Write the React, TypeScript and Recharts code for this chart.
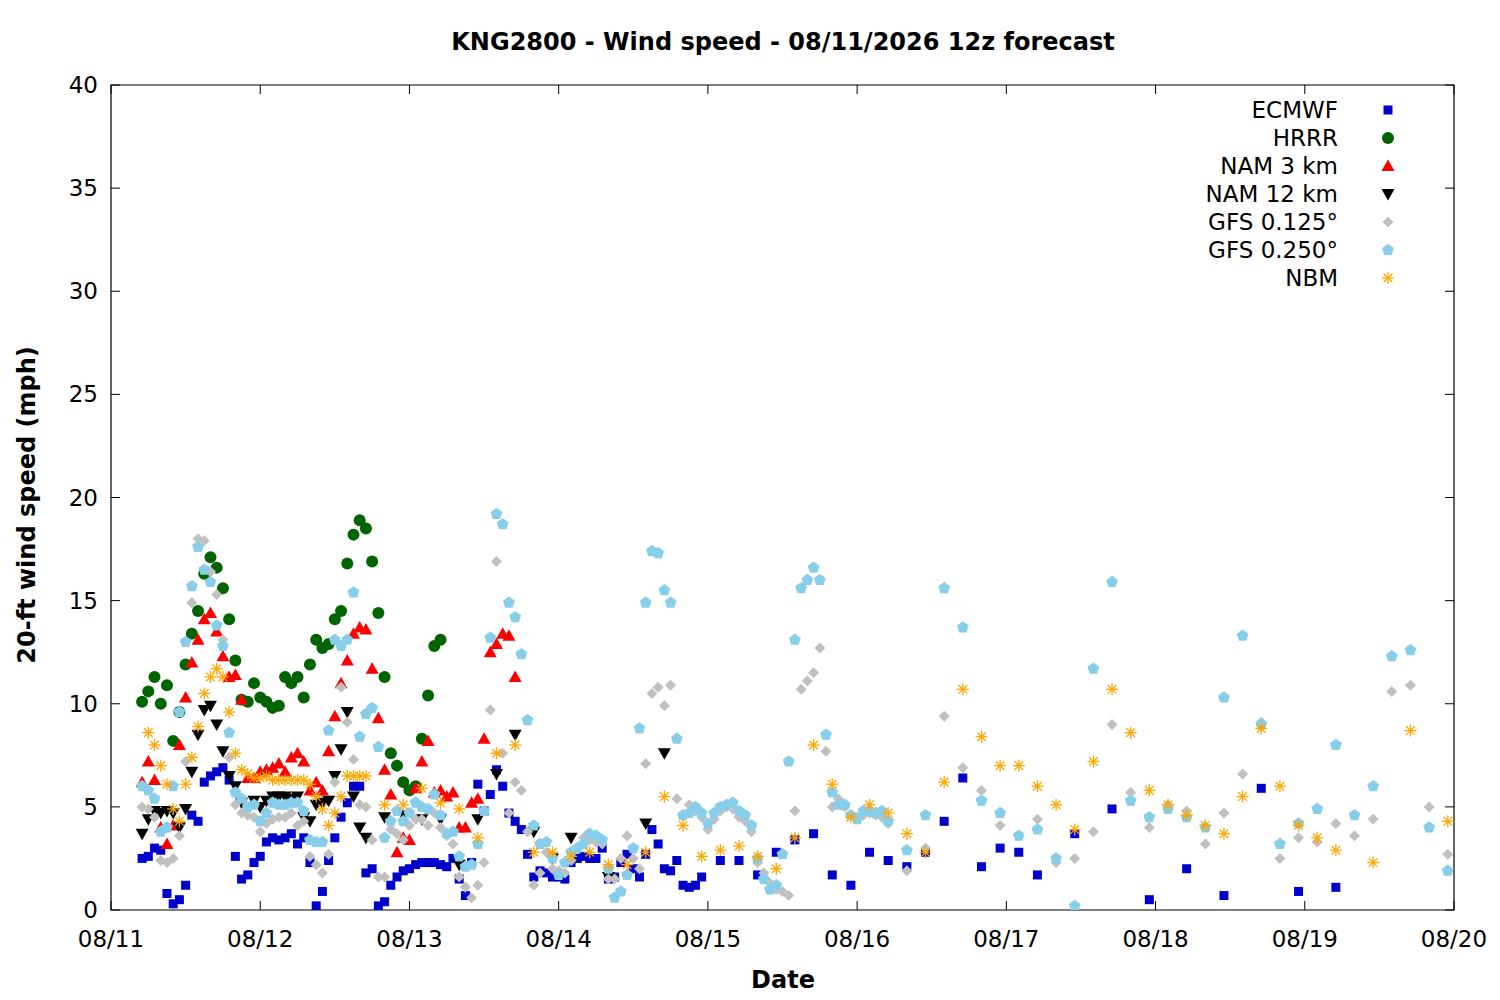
import React from "react";
import { ScatterChart, Scatter, XAxis, YAxis, ReferenceArea } from "recharts";

const X_TICKS = [0, 24, 48, 72, 96, 120, 144, 168, 192, 216];
const X_LABELS = ["08/11", "08/12", "08/13", "08/14", "08/15", "08/16", "08/17", "08/18", "08/19", "08/20"];
const Y_TICKS = [0, 5, 10, 15, 20, 25, 30, 35, 40];

const ecmwfT = [5,6,7,8,9,10,11,12,13,14,15,16,17,18,19,20,21,22,23,24,25,26,27,28,29,30,31,32,33,34,35,36,37,38,39,40,41,42,43,44,45,46,47,48,49,50,51,52,53,54,55,56,57,58,59,60,61,62,63,64,65,66,67,68,69,70,71,72,73,74,75,76,77,78,79,80,81,82,83,84,85,86,87,88,89,90,91,92,93,94,95,98,101,104,107,110,113,116,119,122,125,128,131,134,137,140,143,146,149,155,161,167,173,179,185,191,197];
const ecmwfV = [2.5,2.6,3.0,2.9,0.8,0.3,0.5,1.2,4.6,4.3,6.2,6.5,6.7,6.9,6.3,2.6,1.5,1.7,2.3,2.6,3.3,3.5,3.4,3.5,3.7,3.2,3.5,2.3,0.2,0.9,2.4,3.5,4.5,5.2,6.0,6.0,1.8,2.0,0.2,0.4,1.2,1.6,1.9,2.0,2.2,2.3,2.3,2.3,2.2,2.1,2.5,1.5,0.7,2.3,6.1,4.8,5.6,6.8,6.0,4.7,4.3,3.9,2.7,1.6,1.9,1.8,1.6,1.6,1.5,2.3,2.5,2.6,2.5,2.5,3.0,1.5,1.6,2.3,2.7,2.0,1.6,2.7,3.9,3.2,2.0,1.9,2.4,1.2,1.1,1.2,1.6,2.4,2.4,1.7,2.8,3.4,3.7,1.7,1.2,2.8,2.4,2.1,2.8,4.3,6.4,2.1,3.0,2.8,1.7,3.7,4.9,0.5,2.0,0.7,5.9,0.9,1.1];

const hrrrT = [5,6,7,8,9,10,11,12,13,14,15,16,17,18,19,20,21,22,23,24,25,26,27,28,29,30,31,32,33,34,35,36,37,38,39,40,41,42,43,44,45,46,47,48,49,50,51,52,53];
const hrrrV = [10.1,10.6,11.3,10.0,10.9,8.2,9.6,11.9,13.4,14.5,16.3,17.1,16.6,15.6,14.1,12.1,10.2,10.1,11.0,10.3,10.1,9.8,9.9,11.3,11.0,11.3,10.3,11.9,13.1,12.7,12.9,14.1,14.5,16.8,18.2,18.9,18.5,16.9,14.4,11.3,7.6,7.0,6.2,5.8,6.0,8.3,10.4,12.8,13.1];

const nam3T = [5,6,7,8,9,10,11,12,13,14,15,16,17,18,19,20,21,22,23,24,25,26,27,28,29,30,31,32,33,34,35,36,37,38,39,40,41,42,43,44,45,46,47,48,49,50,51,52,53,54,55,56,57,58,59,60,61,62,63,64,65];
const nam3V = [6.2,7.2,6.3,4.0,3.2,4.1,8.0,10.3,12.0,13.1,14.1,14.4,13.5,12.3,11.3,11.4,10.2,6.4,6.4,6.7,6.8,6.9,7.1,6.7,7.4,7.6,7.2,5.8,6.2,5.8,7.7,9.4,11.0,12.1,13.4,13.7,13.6,11.7,9.3,6.8,5.6,2.8,3.5,3.4,5.9,7.2,8.2,5.7,5.8,5.5,5.7,4.0,4.0,5.2,5.4,8.3,12.5,12.9,13.4,13.3,11.3];

const nam12T = [5,6,7,8,9,10,11,12,13,14,15,16,17,18,19,20,21,22,23,24,25,26,27,28,29,30,31,32,33,34,35,36,37,38,39,40,41,44,47,50,53,56,59,62,65,68,71,74,80,86,89];
const nam12V = [3.7,4.4,4.8,4.7,4.8,4.7,4.0,4.9,6.7,8.5,9.7,9.9,9.0,7.7,6.5,6.0,5.2,4.9,5.3,5.0,5.3,5.5,5.5,5.5,5.4,5.5,4.5,4.3,5.1,5.2,5.3,6.5,7.8,9.6,5.5,4.0,3.5,4.5,4.6,4.4,4.4,2.2,4.4,6.6,8.5,3.8,2.5,3.5,1.6,4.2,7.6];

const gfs125T = [5,6,7,8,9,10,11,12,13,14,15,16,17,18,19,20,21,22,23,24,25,26,27,28,29,30,31,32,33,34,35,36,37,38,39,40,41,42,43,44,45,46,47,48,49,50,51,52,53,54,55,56,57,58,59,60,61,62,63,64,65,66,67,68,69,70,71,72,73,74,75,76,77,78,79,80,81,82,83,84,85,86,87,88,89,90,91,92,93,94,95,96,97,98,99,100,101,102,103,104,105,106,107,108,109,110,111,112,113,114,115,116,117,118,119,120,121,122,123,124,125,128,131,134,137,140,143,146,149,152,155,158,161,164,167,170,173,176,179,182,185,188,191,194,197,200,203,206,209,212,215];
const gfs125V = [5.0,4.9,4.5,2.4,2.3,2.5,3.6,7.2,14.9,18.0,17.9,16.4,15.3,13.1,7.4,5.1,4.7,4.6,4.5,3.8,4.2,4.4,4.5,4.5,4.7,4.1,4.3,2.6,2.2,1.8,2.7,6.2,10.8,9.1,7.3,5.1,5.0,3.4,1.6,1.6,3.9,3.7,3.4,4.1,4.4,4.4,4.1,4.7,4.0,3.6,3.2,1.6,1.1,0.6,1.2,2.3,9.7,16.9,7.6,4.7,6.2,5.8,3.8,1.2,1.8,2.8,2.0,1.9,1.8,2.4,3.0,3.5,3.4,3.3,3.2,1.5,1.5,2.5,3.6,2.5,2.0,7.1,10.5,10.8,9.9,10.9,5.4,4.6,5.1,4.8,4.5,3.9,4.4,4.8,5.0,4.9,4.5,4.3,3.8,2.3,1.8,1.3,1.0,0.9,0.7,4.8,10.7,11.1,11.5,12.7,7.7,5.0,5.4,5.0,4.6,4.5,4.6,4.7,4.6,4.5,4.2,1.9,3.0,9.4,6.9,5.8,4.1,3.6,4.4,2.3,2.5,3.8,9.0,5.7,4.0,5.1,4.8,3.2,4.7,6.6,9.1,2.5,3.5,3.3,4.2,3.6,4.4,10.6,10.9,5.0,2.7];

const gfs250T = gfs125T;
const gfs250V = [6.0,5.8,5.4,3.8,4.0,6.0,9.6,13.0,15.7,17.6,16.5,15.9,13.8,12.8,8.6,5.7,5.4,5.0,5.1,4.3,4.7,5.2,5.1,5.1,5.2,5.2,4.8,3.4,3.3,3.3,8.7,13.1,12.8,13.1,15.4,8.4,9.5,9.8,7.9,3.5,4.3,4.8,4.3,4.7,5.2,5.0,4.9,5.6,4.6,3.7,3.8,2.6,2.1,2.2,3.2,4.8,13.2,19.2,18.7,14.9,14.2,12.4,9.2,4.1,3.2,3.3,2.5,1.7,2.3,2.8,3.0,3.2,3.7,3.6,3.4,2.0,0.6,0.9,1.7,3.0,8.8,14.9,17.4,17.3,15.5,14.9,8.3,4.6,4.7,5.0,4.7,4.2,4.7,5.0,5.1,5.2,4.8,4.6,4.1,2.5,1.5,1.0,1.2,2.7,7.2,13.1,15.6,16.0,16.6,16.0,8.5,5.7,5.1,5.1,4.6,4.4,4.8,4.8,4.7,4.8,4.3,2.9,4.6,15.6,13.7,5.3,4.7,3.6,3.9,2.5,0.2,11.7,15.9,5.3,4.5,4.9,4.5,4.0,10.3,13.3,9.0,3.2,4.2,4.9,8.0,4.6,6.0,12.3,12.6,4.0,1.9];

const nbmT = [6,7,8,9,10,11,12,13,14,15,16,17,18,19,20,21,22,23,24,25,26,27,28,29,30,31,32,33,34,35,36,37,38,39,40,41,44,47,50,53,56,59,62,65,68,71,74,77,80,83,86,89,92,95,98,101,104,107,110,113,116,119,122,125,128,131,134,137,140,143,146,149,152,155,158,161,164,167,170,173,176,179,182,185,188,191,194,197,203,209,215];
const nbmV = [8.6,8.0,7.0,6.1,4.9,4.3,6.1,7.4,8.9,10.5,11.3,11.7,11.3,9.6,7.6,6.8,6.6,6.4,6.4,6.5,6.3,6.3,6.3,6.3,6.3,6.3,6.1,5.5,4.9,4.1,4.7,5.5,6.5,6.5,6.5,6.5,5.1,5.1,5.9,5.2,4.9,3.5,7.6,8.0,2.8,2.8,2.6,2.8,2.2,2.2,2.8,5.5,4.1,2.6,2.9,3.1,2.6,2.0,3.5,8.0,6.1,4.5,5.1,4.7,3.7,2.8,6.2,10.7,8.4,7.0,7.0,6.0,5.1,3.9,7.2,10.7,8.6,5.8,5.1,4.6,4.1,3.7,5.5,8.8,6.0,4.1,3.5,2.9,2.3,8.7,4.3];

const zip = (t: number[], v: number[]) => t.map((x, i) => ({ x, y: v[i] }));

const FONT = "'DejaVu Sans', sans-serif";

const Square = (p: any) => <rect x={p.cx - 4.5} y={p.cy - 4.5} width={9} height={9} fill="#0000cc" />;
const Circle = (p: any) => <circle cx={p.cx} cy={p.cy} r={6} fill="#006400" />;
const TriUp = (p: any) => <polygon points={`${p.cx},${p.cy - 6.5} ${p.cx + 6.5},${p.cy + 5} ${p.cx - 6.5},${p.cy + 5}`} fill="#ff0000" />;
const TriDown = (p: any) => <polygon points={`${p.cx - 6.5},${p.cy - 5} ${p.cx + 6.5},${p.cy - 5} ${p.cx},${p.cy + 6.5}`} fill="#000000" />;
const Diamond = (p: any) => <polygon points={`${p.cx},${p.cy - 5.5} ${p.cx + 5.5},${p.cy} ${p.cx},${p.cy + 5.5} ${p.cx - 5.5},${p.cy}`} fill="#c0c0c0" />;
const Pent = (p: any) => {
  const pts = [0, 1, 2, 3, 4].map((k) => {
    const a = -Math.PI / 2 + (k * 2 * Math.PI) / 5;
    return `${p.cx + 6.2 * Math.cos(a)},${p.cy + 6.2 * Math.sin(a)}`;
  });
  return <polygon points={pts.join(" ")} fill="#87ceeb" />;
};
const Star = (p: any) => (
  <g stroke="#ffa500" strokeWidth={1.3}>
    <line x1={p.cx - 6} y1={p.cy} x2={p.cx + 6} y2={p.cy} />
    <line x1={p.cx} y1={p.cy - 6} x2={p.cx} y2={p.cy + 6} />
    <line x1={p.cx - 4.3} y1={p.cy - 4.3} x2={p.cx + 4.3} y2={p.cy + 4.3} />
    <line x1={p.cx - 4.3} y1={p.cy + 4.3} x2={p.cx + 4.3} y2={p.cy - 4.3} />
  </g>
);

const SERIES = [
  { name: "ECMWF", data: zip(ecmwfT, ecmwfV), shape: Square },
  { name: "HRRR", data: zip(hrrrT, hrrrV), shape: Circle },
  { name: "NAM 3 km", data: zip(nam3T, nam3V), shape: TriUp },
  { name: "NAM 12 km", data: zip(nam12T, nam12V), shape: TriDown },
  { name: "GFS 0.125°", data: zip(gfs125T, gfs125V), shape: Diamond },
  { name: "GFS 0.250°", data: zip(gfs250T, gfs250V), shape: Pent },
  { name: "NBM", data: zip(nbmT, nbmV), shape: Star },
];

const L = 103, R = 1446, T = 77, B = 902;

const XTick = (p: any) => {
  const x = p.x;
  return (
    <g>
      <line x1={x} y1={B} x2={x} y2={B - 9} stroke="#000" />
      <line x1={x} y1={T} x2={x} y2={T + 9} stroke="#000" />
      <text x={x} y={B + 37} textAnchor="middle" fontSize={23} fontFamily={FONT} fill="#000">
        {X_LABELS[X_TICKS.indexOf(p.payload.value)]}
      </text>
    </g>
  );
};
const YTick = (p: any) => {
  const y = p.y;
  return (
    <g>
      <line x1={L} y1={y} x2={L + 9} y2={y} stroke="#000" />
      <line x1={R} y1={y} x2={R - 9} y2={y} stroke="#000" />
      <text x={L - 13} y={y + 8} textAnchor="end" fontSize={23} fontFamily={FONT} fill="#000">
        {p.payload.value}
      </text>
    </g>
  );
};

export default function App() {
  return (
    <div style={{ position: "relative", width: 1490, height: 990, background: "#fff" }}>
      <div style={{ position: "absolute", left: 0, width: 1550, top: 20, textAlign: "center", fontFamily: FONT, fontWeight: "bold", fontSize: 24 }}>
        KNG2800 - Wind speed - 08/11/2026 12z forecast
      </div>
      <ScatterChart width={1490} height={990} margin={{ top: T, left: 43, right: 44, bottom: 48 }}>
        <XAxis type="number" dataKey="x" domain={[0, 216]} ticks={X_TICKS} tick={<XTick />} tickLine={false} axisLine={false} height={40} interval={0} allowDataOverflow />
        <YAxis type="number" dataKey="y" domain={[0, 40]} ticks={Y_TICKS} tick={<YTick />} tickLine={false} axisLine={false} width={60} interval={0} allowDataOverflow />
        <ReferenceArea x1={0} x2={216} y1={0} y2={40} fill="none" stroke="#000" strokeWidth={1.2} ifOverflow="visible" />
        {SERIES.map((s) => (
          <Scatter key={s.name} name={s.name} data={s.data} shape={s.shape} isAnimationActive={false} />
        ))}
      </ScatterChart>
      <div style={{ position: "absolute", top: 88, left: 1000, width: 410, fontFamily: FONT, fontSize: 23 }}>
        {SERIES.map((s) => {
          const Sh = s.shape;
          return (
            <div key={s.name} style={{ display: "flex", alignItems: "center", justifyContent: "flex-end", height: 28 }}>
              <span style={{ lineHeight: "28px" }}>{s.name}</span>
              <svg width={60} height={28} style={{ marginLeft: 20 }}>
                <Sh cx={30} cy={14} />
              </svg>
            </div>
          );
        })}
      </div>
      <div style={{ position: "absolute", left: 0, width: 1550, top: 958, textAlign: "center", fontFamily: FONT, fontWeight: "bold", fontSize: 24 }}>
        Date
      </div>
      <div style={{ position: "absolute", left: 19, top: 497, transform: "translate(-50%,-50%) rotate(-90deg)", whiteSpace: "nowrap", fontFamily: FONT, fontWeight: "bold", fontSize: 24 }}>
        20-ft wind speed (mph)
      </div>
    </div>
  );
}
